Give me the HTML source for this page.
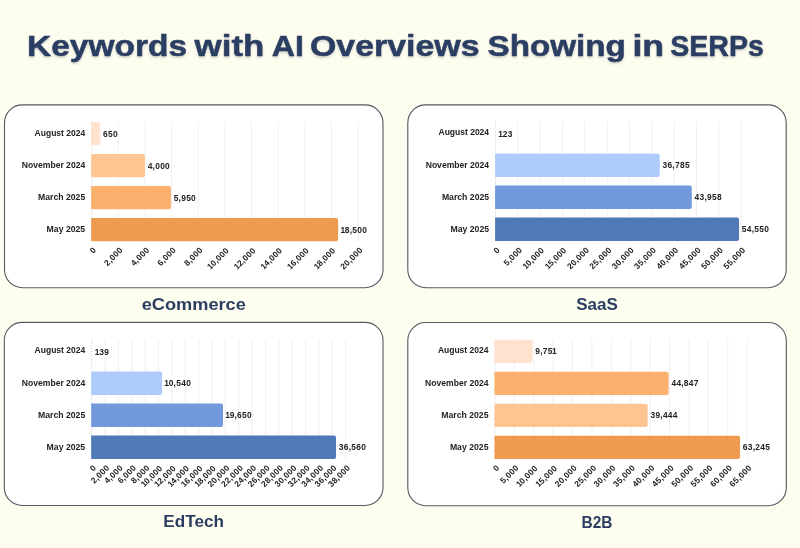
<!DOCTYPE html>
<html lang="en"><head><meta charset="utf-8"><title>Keywords with AI Overviews Showing in SERPs</title>
<style>html,body{margin:0;padding:0;background:#fefef0;}body{width:800px;height:548px;overflow:hidden;}svg{display:block;}text{font-family:"Liberation Sans", sans-serif;font-weight:700;}</style></head><body>
<svg width="800" height="548" viewBox="0 0 800 548">
<rect width="800" height="548" fill="#fefef0"/>
<defs><filter id="ts" x="-5%" y="-30%" width="110%" height="180%"><feDropShadow dx="0" dy="1.6" stdDeviation="1.1" flood-color="#555a66" flood-opacity="0.28"/></filter></defs>
<text y="56.05" font-size="29.9" fill="#2b3e62" stroke="#2b3e62" stroke-width="0.5" filter="url(#ts)"><tspan x="27.0" textLength="160.0" lengthAdjust="spacingAndGlyphs">Keywords</tspan> <tspan x="194.6" textLength="69.7" lengthAdjust="spacingAndGlyphs">with</tspan> <tspan x="271.7" textLength="32.2" lengthAdjust="spacingAndGlyphs">AI</tspan> <tspan x="310.0" textLength="169.5" lengthAdjust="spacingAndGlyphs">Overviews</tspan> <tspan x="487.5" textLength="138.4" lengthAdjust="spacingAndGlyphs">Showing</tspan> <tspan x="632.4" textLength="31.8" lengthAdjust="spacingAndGlyphs">in</tspan> <tspan x="670.2" textLength="93.7" lengthAdjust="spacingAndGlyphs">SERPs</tspan></text>
<g>
<rect x="4.50" y="104.90" width="378.50" height="182.80" rx="18" ry="18" fill="#ffffff" stroke="#555960" stroke-width="1.1"/>
<line x1="91.65" y1="121.60" x2="91.65" y2="241.30" stroke="#d0d0d0" stroke-width="0.8" stroke-dasharray="1 1"/>
<line x1="118.30" y1="121.60" x2="118.30" y2="241.30" stroke="#f0f0f0" stroke-width="1"/>
<line x1="144.95" y1="121.60" x2="144.95" y2="241.30" stroke="#f0f0f0" stroke-width="1"/>
<line x1="171.60" y1="121.60" x2="171.60" y2="241.30" stroke="#f0f0f0" stroke-width="1"/>
<line x1="198.25" y1="121.60" x2="198.25" y2="241.30" stroke="#f0f0f0" stroke-width="1"/>
<line x1="224.90" y1="121.60" x2="224.90" y2="241.30" stroke="#f0f0f0" stroke-width="1"/>
<line x1="251.55" y1="121.60" x2="251.55" y2="241.30" stroke="#f0f0f0" stroke-width="1"/>
<line x1="278.20" y1="121.60" x2="278.20" y2="241.30" stroke="#f0f0f0" stroke-width="1"/>
<line x1="304.85" y1="121.60" x2="304.85" y2="241.30" stroke="#f0f0f0" stroke-width="1"/>
<line x1="331.50" y1="121.60" x2="331.50" y2="241.30" stroke="#f0f0f0" stroke-width="1"/>
<line x1="358.15" y1="121.60" x2="358.15" y2="241.30" stroke="#f0f0f0" stroke-width="1"/>
<path d="M91.20 122.00H98.21Q100.31 122.00 100.31 124.10V143.20Q100.31 145.30 98.21 145.30H91.20Z" fill="#ffe3cf"/>
<text x="85.20" y="136.10" font-size="8.4" fill="#222222" text-anchor="end" textLength="50.6" lengthAdjust="spacingAndGlyphs">August 2024</text>
<text x="103.11" y="136.50" font-size="8.4" fill="#222222" dx="0.00 0.28 0.28">650</text>
<path d="M91.20 154.00H142.85Q144.95 154.00 144.95 156.10V175.20Q144.95 177.30 142.85 177.30H91.20Z" fill="#fec491"/>
<text x="85.20" y="168.10" font-size="8.4" fill="#222222" text-anchor="end" textLength="63.4" lengthAdjust="spacingAndGlyphs">November 2024</text>
<text x="147.75" y="168.50" font-size="8.4" fill="#222222" dx="0.00 0.18 0.28 0.28 0.28">4,000</text>
<path d="M91.20 186.00H168.83Q170.93 186.00 170.93 188.10V207.20Q170.93 209.30 168.83 209.30H91.20Z" fill="#fbb06e"/>
<text x="85.20" y="200.10" font-size="8.4" fill="#222222" text-anchor="end" textLength="47.2" lengthAdjust="spacingAndGlyphs">March 2025</text>
<text x="173.73" y="200.50" font-size="8.4" fill="#222222" dx="0.00 0.18 0.28 0.28 0.28">5,950</text>
<path d="M91.20 218.00H336.06Q338.16 218.00 338.16 220.10V239.20Q338.16 241.30 336.06 241.30H91.20Z" fill="#ee9b50"/>
<text x="85.20" y="232.10" font-size="8.4" fill="#222222" text-anchor="end" textLength="38.6" lengthAdjust="spacingAndGlyphs">May 2025</text>
<text x="340.96" y="232.50" font-size="8.4" fill="#222222" dx="-0.55 -0.27 0.18 0.28 0.28 0.28">18,500</text>
<text transform="translate(96.45 250.80) rotate(-45)" font-size="8.4" fill="#222222" text-anchor="end" dx="0.00">0</text>
<text transform="translate(123.10 250.80) rotate(-45)" font-size="8.4" fill="#222222" text-anchor="end" dx="0.00 0.18 0.28 0.28 0.28">2,000</text>
<text transform="translate(149.75 250.80) rotate(-45)" font-size="8.4" fill="#222222" text-anchor="end" dx="0.00 0.18 0.28 0.28 0.28">4,000</text>
<text transform="translate(176.40 250.80) rotate(-45)" font-size="8.4" fill="#222222" text-anchor="end" dx="0.00 0.18 0.28 0.28 0.28">6,000</text>
<text transform="translate(203.05 250.80) rotate(-45)" font-size="8.4" fill="#222222" text-anchor="end" dx="0.00 0.18 0.28 0.28 0.28">8,000</text>
<text transform="translate(229.70 250.80) rotate(-45)" font-size="8.4" fill="#222222" text-anchor="end" dx="-0.55 -0.27 0.18 0.28 0.28 0.28">10,000</text>
<text transform="translate(256.35 250.80) rotate(-45)" font-size="8.4" fill="#222222" text-anchor="end" dx="-0.55 -0.27 0.18 0.28 0.28 0.28">12,000</text>
<text transform="translate(283.00 250.80) rotate(-45)" font-size="8.4" fill="#222222" text-anchor="end" dx="-0.55 -0.27 0.18 0.28 0.28 0.28">14,000</text>
<text transform="translate(309.65 250.80) rotate(-45)" font-size="8.4" fill="#222222" text-anchor="end" dx="-0.55 -0.27 0.18 0.28 0.28 0.28">16,000</text>
<text transform="translate(336.30 250.80) rotate(-45)" font-size="8.4" fill="#222222" text-anchor="end" dx="-0.55 -0.27 0.18 0.28 0.28 0.28">18,000</text>
<text transform="translate(362.95 250.80) rotate(-45)" font-size="8.4" fill="#222222" text-anchor="end" dx="0.00 0.28 0.18 0.28 0.28 0.28">20,000</text>
<text x="193.75" y="310.00" font-size="16.5" fill="#2b3e62" text-anchor="middle" textLength="104.2" lengthAdjust="spacingAndGlyphs">eCommerce</text>
</g>
<g>
<rect x="407.80" y="104.90" width="378.40" height="182.80" rx="18" ry="18" fill="#ffffff" stroke="#555960" stroke-width="1.1"/>
<line x1="495.55" y1="121.10" x2="495.55" y2="241.10" stroke="#d0d0d0" stroke-width="0.8" stroke-dasharray="1 1"/>
<line x1="517.87" y1="121.10" x2="517.87" y2="241.10" stroke="#f0f0f0" stroke-width="1"/>
<line x1="540.19" y1="121.10" x2="540.19" y2="241.10" stroke="#f0f0f0" stroke-width="1"/>
<line x1="562.51" y1="121.10" x2="562.51" y2="241.10" stroke="#f0f0f0" stroke-width="1"/>
<line x1="584.83" y1="121.10" x2="584.83" y2="241.10" stroke="#f0f0f0" stroke-width="1"/>
<line x1="607.15" y1="121.10" x2="607.15" y2="241.10" stroke="#f0f0f0" stroke-width="1"/>
<line x1="629.47" y1="121.10" x2="629.47" y2="241.10" stroke="#f0f0f0" stroke-width="1"/>
<line x1="651.79" y1="121.10" x2="651.79" y2="241.10" stroke="#f0f0f0" stroke-width="1"/>
<line x1="674.11" y1="121.10" x2="674.11" y2="241.10" stroke="#f0f0f0" stroke-width="1"/>
<line x1="696.43" y1="121.10" x2="696.43" y2="241.10" stroke="#f0f0f0" stroke-width="1"/>
<line x1="718.75" y1="121.10" x2="718.75" y2="241.10" stroke="#f0f0f0" stroke-width="1"/>
<line x1="741.07" y1="121.10" x2="741.07" y2="241.10" stroke="#f0f0f0" stroke-width="1"/>
<text x="489.10" y="135.05" font-size="8.4" fill="#222222" text-anchor="end" textLength="50.6" lengthAdjust="spacingAndGlyphs">August 2024</text>
<text x="498.90" y="136.95" font-size="8.4" fill="#222222" dx="-0.55 -0.27 0.28">123</text>
<path d="M495.10 153.50H657.66Q659.76 153.50 659.76 155.60V175.00Q659.76 177.10 657.66 177.10H495.10Z" fill="#afcbfb"/>
<text x="489.10" y="167.75" font-size="8.4" fill="#222222" text-anchor="end" textLength="63.4" lengthAdjust="spacingAndGlyphs">November 2024</text>
<text x="662.56" y="168.15" font-size="8.4" fill="#222222" dx="0.00 0.28 0.18 0.28 0.28 0.28">36,785</text>
<path d="M495.10 185.50H689.68Q691.78 185.50 691.78 187.60V207.00Q691.78 209.10 689.68 209.10H495.10Z" fill="#7299dc"/>
<text x="489.10" y="199.75" font-size="8.4" fill="#222222" text-anchor="end" textLength="47.2" lengthAdjust="spacingAndGlyphs">March 2025</text>
<text x="694.58" y="200.15" font-size="8.4" fill="#222222" dx="0.00 0.28 0.18 0.28 0.28 0.28">43,958</text>
<path d="M495.10 217.50H736.96Q739.06 217.50 739.06 219.60V239.00Q739.06 241.10 736.96 241.10H495.10Z" fill="#5079b7"/>
<text x="489.10" y="231.75" font-size="8.4" fill="#222222" text-anchor="end" textLength="38.6" lengthAdjust="spacingAndGlyphs">May 2025</text>
<text x="741.86" y="232.15" font-size="8.4" fill="#222222" dx="0.00 0.28 0.18 0.28 0.28 0.28">54,550</text>
<text transform="translate(500.35 250.60) rotate(-45)" font-size="8.4" fill="#222222" text-anchor="end" dx="0.00">0</text>
<text transform="translate(522.67 250.60) rotate(-45)" font-size="8.4" fill="#222222" text-anchor="end" dx="0.00 0.18 0.28 0.28 0.28">5,000</text>
<text transform="translate(544.99 250.60) rotate(-45)" font-size="8.4" fill="#222222" text-anchor="end" dx="-0.55 -0.27 0.18 0.28 0.28 0.28">10,000</text>
<text transform="translate(567.31 250.60) rotate(-45)" font-size="8.4" fill="#222222" text-anchor="end" dx="-0.55 -0.27 0.18 0.28 0.28 0.28">15,000</text>
<text transform="translate(589.63 250.60) rotate(-45)" font-size="8.4" fill="#222222" text-anchor="end" dx="0.00 0.28 0.18 0.28 0.28 0.28">20,000</text>
<text transform="translate(611.95 250.60) rotate(-45)" font-size="8.4" fill="#222222" text-anchor="end" dx="0.00 0.28 0.18 0.28 0.28 0.28">25,000</text>
<text transform="translate(634.27 250.60) rotate(-45)" font-size="8.4" fill="#222222" text-anchor="end" dx="0.00 0.28 0.18 0.28 0.28 0.28">30,000</text>
<text transform="translate(656.59 250.60) rotate(-45)" font-size="8.4" fill="#222222" text-anchor="end" dx="0.00 0.28 0.18 0.28 0.28 0.28">35,000</text>
<text transform="translate(678.91 250.60) rotate(-45)" font-size="8.4" fill="#222222" text-anchor="end" dx="0.00 0.28 0.18 0.28 0.28 0.28">40,000</text>
<text transform="translate(701.23 250.60) rotate(-45)" font-size="8.4" fill="#222222" text-anchor="end" dx="0.00 0.28 0.18 0.28 0.28 0.28">45,000</text>
<text transform="translate(723.55 250.60) rotate(-45)" font-size="8.4" fill="#222222" text-anchor="end" dx="0.00 0.28 0.18 0.28 0.28 0.28">50,000</text>
<text transform="translate(745.87 250.60) rotate(-45)" font-size="8.4" fill="#222222" text-anchor="end" dx="0.00 0.28 0.18 0.28 0.28 0.28">55,000</text>
<text x="597.00" y="310.30" font-size="16.5" fill="#2b3e62" text-anchor="middle" textLength="41.6" lengthAdjust="spacingAndGlyphs">SaaS</text>
</g>
<g>
<rect x="4.30" y="322.40" width="378.70" height="183.10" rx="18" ry="18" fill="#ffffff" stroke="#555960" stroke-width="1.1"/>
<line x1="91.65" y1="339.00" x2="91.65" y2="459.00" stroke="#d0d0d0" stroke-width="0.8" stroke-dasharray="1 1"/>
<line x1="105.02" y1="339.00" x2="105.02" y2="459.00" stroke="#f0f0f0" stroke-width="1"/>
<line x1="118.39" y1="339.00" x2="118.39" y2="459.00" stroke="#f0f0f0" stroke-width="1"/>
<line x1="131.76" y1="339.00" x2="131.76" y2="459.00" stroke="#f0f0f0" stroke-width="1"/>
<line x1="145.13" y1="339.00" x2="145.13" y2="459.00" stroke="#f0f0f0" stroke-width="1"/>
<line x1="158.50" y1="339.00" x2="158.50" y2="459.00" stroke="#f0f0f0" stroke-width="1"/>
<line x1="171.87" y1="339.00" x2="171.87" y2="459.00" stroke="#f0f0f0" stroke-width="1"/>
<line x1="185.24" y1="339.00" x2="185.24" y2="459.00" stroke="#f0f0f0" stroke-width="1"/>
<line x1="198.61" y1="339.00" x2="198.61" y2="459.00" stroke="#f0f0f0" stroke-width="1"/>
<line x1="211.98" y1="339.00" x2="211.98" y2="459.00" stroke="#f0f0f0" stroke-width="1"/>
<line x1="225.35" y1="339.00" x2="225.35" y2="459.00" stroke="#f0f0f0" stroke-width="1"/>
<line x1="238.72" y1="339.00" x2="238.72" y2="459.00" stroke="#f0f0f0" stroke-width="1"/>
<line x1="252.09" y1="339.00" x2="252.09" y2="459.00" stroke="#f0f0f0" stroke-width="1"/>
<line x1="265.46" y1="339.00" x2="265.46" y2="459.00" stroke="#f0f0f0" stroke-width="1"/>
<line x1="278.83" y1="339.00" x2="278.83" y2="459.00" stroke="#f0f0f0" stroke-width="1"/>
<line x1="292.20" y1="339.00" x2="292.20" y2="459.00" stroke="#f0f0f0" stroke-width="1"/>
<line x1="305.57" y1="339.00" x2="305.57" y2="459.00" stroke="#f0f0f0" stroke-width="1"/>
<line x1="318.94" y1="339.00" x2="318.94" y2="459.00" stroke="#f0f0f0" stroke-width="1"/>
<line x1="332.31" y1="339.00" x2="332.31" y2="459.00" stroke="#f0f0f0" stroke-width="1"/>
<line x1="345.68" y1="339.00" x2="345.68" y2="459.00" stroke="#f0f0f0" stroke-width="1"/>
<text x="85.20" y="353.05" font-size="8.4" fill="#222222" text-anchor="end" textLength="50.6" lengthAdjust="spacingAndGlyphs">August 2024</text>
<text x="95.38" y="354.80" font-size="8.4" fill="#222222" dx="-0.55 -0.27 0.28">139</text>
<path d="M91.20 371.40H160.01Q162.11 371.40 162.11 373.50V392.90Q162.11 395.00 160.01 395.00H91.20Z" fill="#afcbfb"/>
<text x="85.20" y="385.65" font-size="8.4" fill="#222222" text-anchor="end" textLength="63.4" lengthAdjust="spacingAndGlyphs">November 2024</text>
<text x="164.91" y="386.05" font-size="8.4" fill="#222222" dx="-0.55 -0.27 0.18 0.28 0.28 0.28">10,540</text>
<path d="M91.20 403.40H220.91Q223.01 403.40 223.01 405.50V424.90Q223.01 427.00 220.91 427.00H91.20Z" fill="#7299dc"/>
<text x="85.20" y="417.65" font-size="8.4" fill="#222222" text-anchor="end" textLength="47.2" lengthAdjust="spacingAndGlyphs">March 2025</text>
<text x="225.81" y="418.05" font-size="8.4" fill="#222222" dx="-0.55 -0.27 0.18 0.28 0.28 0.28">19,650</text>
<path d="M91.20 435.40H333.95Q336.05 435.40 336.05 437.50V456.90Q336.05 459.00 333.95 459.00H91.20Z" fill="#5079b7"/>
<text x="85.20" y="449.65" font-size="8.4" fill="#222222" text-anchor="end" textLength="38.6" lengthAdjust="spacingAndGlyphs">May 2025</text>
<text x="338.85" y="450.05" font-size="8.4" fill="#222222" dx="0.00 0.28 0.18 0.28 0.28 0.28">36,560</text>
<text transform="translate(96.45 468.50) rotate(-45)" font-size="8.4" fill="#222222" text-anchor="end" dx="0.00">0</text>
<text transform="translate(109.82 468.50) rotate(-45)" font-size="8.4" fill="#222222" text-anchor="end" dx="0.00 0.18 0.28 0.28 0.28">2,000</text>
<text transform="translate(123.19 468.50) rotate(-45)" font-size="8.4" fill="#222222" text-anchor="end" dx="0.00 0.18 0.28 0.28 0.28">4,000</text>
<text transform="translate(136.56 468.50) rotate(-45)" font-size="8.4" fill="#222222" text-anchor="end" dx="0.00 0.18 0.28 0.28 0.28">6,000</text>
<text transform="translate(149.93 468.50) rotate(-45)" font-size="8.4" fill="#222222" text-anchor="end" dx="0.00 0.18 0.28 0.28 0.28">8,000</text>
<text transform="translate(163.30 468.50) rotate(-45)" font-size="8.4" fill="#222222" text-anchor="end" dx="-0.55 -0.27 0.18 0.28 0.28 0.28">10,000</text>
<text transform="translate(176.67 468.50) rotate(-45)" font-size="8.4" fill="#222222" text-anchor="end" dx="-0.55 -0.27 0.18 0.28 0.28 0.28">12,000</text>
<text transform="translate(190.04 468.50) rotate(-45)" font-size="8.4" fill="#222222" text-anchor="end" dx="-0.55 -0.27 0.18 0.28 0.28 0.28">14,000</text>
<text transform="translate(203.41 468.50) rotate(-45)" font-size="8.4" fill="#222222" text-anchor="end" dx="-0.55 -0.27 0.18 0.28 0.28 0.28">16,000</text>
<text transform="translate(216.78 468.50) rotate(-45)" font-size="8.4" fill="#222222" text-anchor="end" dx="-0.55 -0.27 0.18 0.28 0.28 0.28">18,000</text>
<text transform="translate(230.15 468.50) rotate(-45)" font-size="8.4" fill="#222222" text-anchor="end" dx="0.00 0.28 0.18 0.28 0.28 0.28">20,000</text>
<text transform="translate(243.52 468.50) rotate(-45)" font-size="8.4" fill="#222222" text-anchor="end" dx="0.00 0.28 0.18 0.28 0.28 0.28">22,000</text>
<text transform="translate(256.89 468.50) rotate(-45)" font-size="8.4" fill="#222222" text-anchor="end" dx="0.00 0.28 0.18 0.28 0.28 0.28">24,000</text>
<text transform="translate(270.26 468.50) rotate(-45)" font-size="8.4" fill="#222222" text-anchor="end" dx="0.00 0.28 0.18 0.28 0.28 0.28">26,000</text>
<text transform="translate(283.63 468.50) rotate(-45)" font-size="8.4" fill="#222222" text-anchor="end" dx="0.00 0.28 0.18 0.28 0.28 0.28">28,000</text>
<text transform="translate(297.00 468.50) rotate(-45)" font-size="8.4" fill="#222222" text-anchor="end" dx="0.00 0.28 0.18 0.28 0.28 0.28">30,000</text>
<text transform="translate(310.37 468.50) rotate(-45)" font-size="8.4" fill="#222222" text-anchor="end" dx="0.00 0.28 0.18 0.28 0.28 0.28">32,000</text>
<text transform="translate(323.74 468.50) rotate(-45)" font-size="8.4" fill="#222222" text-anchor="end" dx="0.00 0.28 0.18 0.28 0.28 0.28">34,000</text>
<text transform="translate(337.11 468.50) rotate(-45)" font-size="8.4" fill="#222222" text-anchor="end" dx="0.00 0.28 0.18 0.28 0.28 0.28">36,000</text>
<text transform="translate(350.48 468.50) rotate(-45)" font-size="8.4" fill="#222222" text-anchor="end" dx="0.00 0.28 0.18 0.28 0.28 0.28">38,000</text>
<text x="193.65" y="527.20" font-size="16.5" fill="#2b3e62" text-anchor="middle" textLength="60.6" lengthAdjust="spacingAndGlyphs">EdTech</text>
</g>
<g>
<rect x="407.80" y="322.50" width="378.50" height="183.20" rx="18" ry="18" fill="#ffffff" stroke="#555960" stroke-width="1.1"/>
<line x1="494.95" y1="339.30" x2="494.95" y2="459.00" stroke="#d0d0d0" stroke-width="0.8" stroke-dasharray="1 1"/>
<line x1="514.35" y1="339.30" x2="514.35" y2="459.00" stroke="#f0f0f0" stroke-width="1"/>
<line x1="533.75" y1="339.30" x2="533.75" y2="459.00" stroke="#f0f0f0" stroke-width="1"/>
<line x1="553.15" y1="339.30" x2="553.15" y2="459.00" stroke="#f0f0f0" stroke-width="1"/>
<line x1="572.55" y1="339.30" x2="572.55" y2="459.00" stroke="#f0f0f0" stroke-width="1"/>
<line x1="591.95" y1="339.30" x2="591.95" y2="459.00" stroke="#f0f0f0" stroke-width="1"/>
<line x1="611.35" y1="339.30" x2="611.35" y2="459.00" stroke="#f0f0f0" stroke-width="1"/>
<line x1="630.75" y1="339.30" x2="630.75" y2="459.00" stroke="#f0f0f0" stroke-width="1"/>
<line x1="650.15" y1="339.30" x2="650.15" y2="459.00" stroke="#f0f0f0" stroke-width="1"/>
<line x1="669.55" y1="339.30" x2="669.55" y2="459.00" stroke="#f0f0f0" stroke-width="1"/>
<line x1="688.95" y1="339.30" x2="688.95" y2="459.00" stroke="#f0f0f0" stroke-width="1"/>
<line x1="708.35" y1="339.30" x2="708.35" y2="459.00" stroke="#f0f0f0" stroke-width="1"/>
<line x1="727.75" y1="339.30" x2="727.75" y2="459.00" stroke="#f0f0f0" stroke-width="1"/>
<line x1="747.15" y1="339.30" x2="747.15" y2="459.00" stroke="#f0f0f0" stroke-width="1"/>
<path d="M494.50 339.70H530.38Q532.48 339.70 532.48 341.80V360.90Q532.48 363.00 530.38 363.00H494.50Z" fill="#ffe3cf"/>
<text x="488.50" y="353.10" font-size="8.4" fill="#222222" text-anchor="end" textLength="50.6" lengthAdjust="spacingAndGlyphs">August 2024</text>
<text x="535.28" y="354.20" font-size="8.4" fill="#222222" dx="0.00 0.18 0.28 0.28 -0.27">9,751</text>
<path d="M494.50 371.70H666.56Q668.66 371.70 668.66 373.80V392.90Q668.66 395.00 666.56 395.00H494.50Z" fill="#fbb06e"/>
<text x="488.50" y="385.80" font-size="8.4" fill="#222222" text-anchor="end" textLength="63.4" lengthAdjust="spacingAndGlyphs">November 2024</text>
<text x="671.46" y="386.20" font-size="8.4" fill="#222222" dx="0.00 0.28 0.18 0.28 0.28 0.28">44,847</text>
<path d="M494.50 403.70H645.59Q647.69 403.70 647.69 405.80V424.90Q647.69 427.00 645.59 427.00H494.50Z" fill="#fec491"/>
<text x="488.50" y="417.80" font-size="8.4" fill="#222222" text-anchor="end" textLength="47.2" lengthAdjust="spacingAndGlyphs">March 2025</text>
<text x="650.49" y="418.20" font-size="8.4" fill="#222222" dx="0.00 0.28 0.18 0.28 0.28 0.28">39,444</text>
<path d="M494.50 435.70H737.94Q740.04 435.70 740.04 437.80V456.90Q740.04 459.00 737.94 459.00H494.50Z" fill="#ee9b50"/>
<text x="488.50" y="449.80" font-size="8.4" fill="#222222" text-anchor="end" textLength="38.6" lengthAdjust="spacingAndGlyphs">May 2025</text>
<text x="742.84" y="450.20" font-size="8.4" fill="#222222" dx="0.00 0.28 0.18 0.28 0.28 0.28">63,245</text>
<text transform="translate(499.75 468.50) rotate(-45)" font-size="8.4" fill="#222222" text-anchor="end" dx="0.00">0</text>
<text transform="translate(519.15 468.50) rotate(-45)" font-size="8.4" fill="#222222" text-anchor="end" dx="0.00 0.18 0.28 0.28 0.28">5,000</text>
<text transform="translate(538.55 468.50) rotate(-45)" font-size="8.4" fill="#222222" text-anchor="end" dx="-0.55 -0.27 0.18 0.28 0.28 0.28">10,000</text>
<text transform="translate(557.95 468.50) rotate(-45)" font-size="8.4" fill="#222222" text-anchor="end" dx="-0.55 -0.27 0.18 0.28 0.28 0.28">15,000</text>
<text transform="translate(577.35 468.50) rotate(-45)" font-size="8.4" fill="#222222" text-anchor="end" dx="0.00 0.28 0.18 0.28 0.28 0.28">20,000</text>
<text transform="translate(596.75 468.50) rotate(-45)" font-size="8.4" fill="#222222" text-anchor="end" dx="0.00 0.28 0.18 0.28 0.28 0.28">25,000</text>
<text transform="translate(616.15 468.50) rotate(-45)" font-size="8.4" fill="#222222" text-anchor="end" dx="0.00 0.28 0.18 0.28 0.28 0.28">30,000</text>
<text transform="translate(635.55 468.50) rotate(-45)" font-size="8.4" fill="#222222" text-anchor="end" dx="0.00 0.28 0.18 0.28 0.28 0.28">35,000</text>
<text transform="translate(654.95 468.50) rotate(-45)" font-size="8.4" fill="#222222" text-anchor="end" dx="0.00 0.28 0.18 0.28 0.28 0.28">40,000</text>
<text transform="translate(674.35 468.50) rotate(-45)" font-size="8.4" fill="#222222" text-anchor="end" dx="0.00 0.28 0.18 0.28 0.28 0.28">45,000</text>
<text transform="translate(693.75 468.50) rotate(-45)" font-size="8.4" fill="#222222" text-anchor="end" dx="0.00 0.28 0.18 0.28 0.28 0.28">50,000</text>
<text transform="translate(713.15 468.50) rotate(-45)" font-size="8.4" fill="#222222" text-anchor="end" dx="0.00 0.28 0.18 0.28 0.28 0.28">55,000</text>
<text transform="translate(732.55 468.50) rotate(-45)" font-size="8.4" fill="#222222" text-anchor="end" dx="0.00 0.28 0.18 0.28 0.28 0.28">60,000</text>
<text transform="translate(751.95 468.50) rotate(-45)" font-size="8.4" fill="#222222" text-anchor="end" dx="0.00 0.28 0.18 0.28 0.28 0.28">65,000</text>
<text x="597.05" y="528.00" font-size="16.5" fill="#2b3e62" text-anchor="middle" textLength="31.0" lengthAdjust="spacingAndGlyphs">B2B</text>
</g>
</svg></body></html>
